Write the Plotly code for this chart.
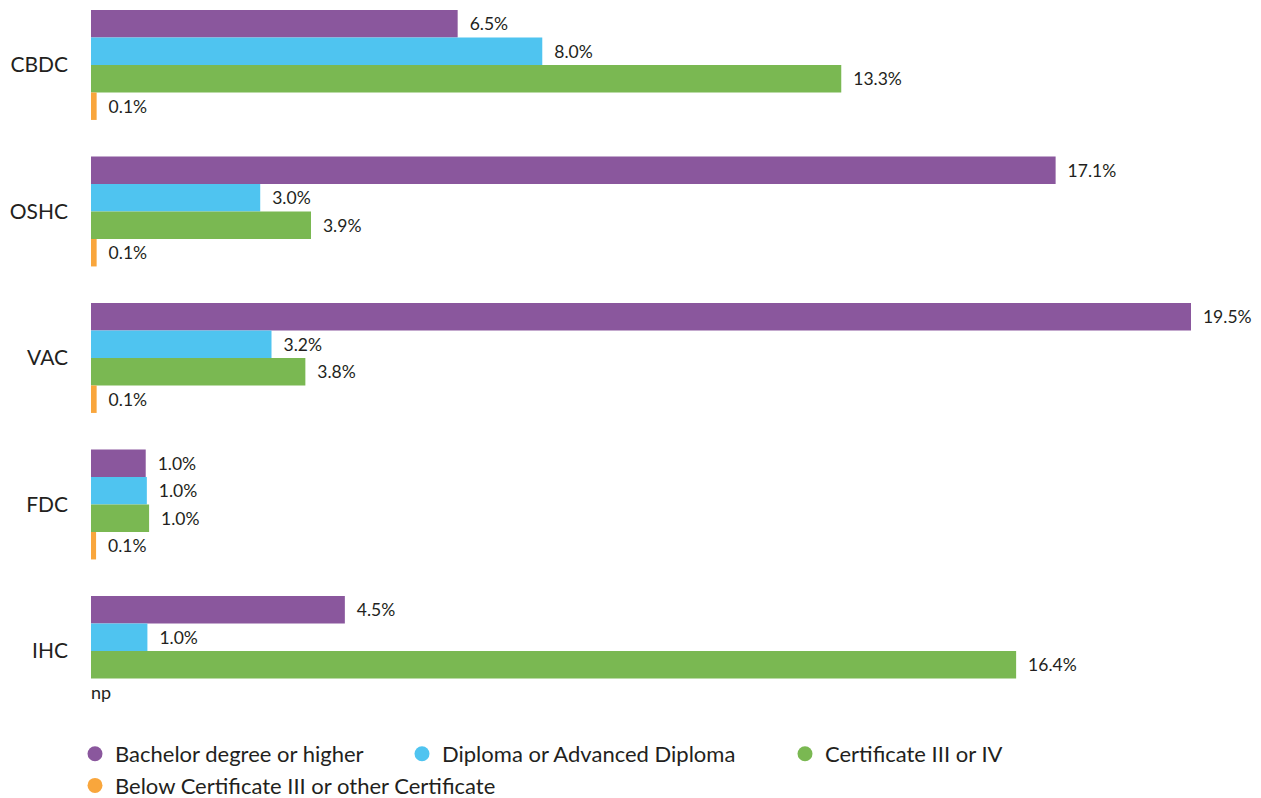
import plotly.graph_objects as go

categories = ["CBDC", "OSHC", "VAC", "FDC", "IHC"]
series_names = [
    "Bachelor degree or higher",
    "Diploma or Advanced Diploma",
    "Certificate III or IV",
    "Below Certificate III or other Certificate",
]
bachelor = [6.5, 17.1, 19.5, 0.97, 4.5]
diploma = [8.0, 3.0, 3.2, 0.99, 1.0]
cert34 = [13.3, 3.9, 3.8, 1.03, 16.4]
below = [0.1, 0.1, 0.1, 0.09, None]
below_labels = ["0.1%", "0.1%", "0.1%", "0.1%", ""]
np_label = "np"

colors = ["#8A579D", "#4FC4F0", "#7AB852", "#F9A63C"]
FONT = "Lato, Open Sans, sans-serif"
TXT = "#231F20"

values = [bachelor, diploma, cert34, below]
fig = go.Figure()
for i, (name, vals) in enumerate(zip(series_names, values)):
    if i < 3:
        txt = [f"{v:.1f}%" for v in vals]
    else:
        txt = below_labels
    fig.add_trace(go.Bar(
        y=categories, x=vals, orientation="h", name=name,
        marker=dict(color=colors[i], line=dict(width=0)),
        text=["\u00a0\u00a0" + t if t else "" for t in txt],
        texttemplate="%{text}",
        textposition="outside", cliponaxis=False,
        textfont=dict(family=FONT, size=17.5, color=TXT),
        showlegend=False, hoverinfo="skip",
    ))

legend_ids = ["legend", "legend2", "legend3", "legend"]
for i, name in enumerate(series_names):
    fig.add_trace(go.Scatter(
        x=[None], y=[None], mode="markers", name=name,
        marker=dict(symbol="circle", size=15, color=colors[i]),
        legend=legend_ids[i], showlegend=True,
    ))

fig.add_annotation(x=0, y="IHC", text=np_label, showarrow=False,
                   xanchor="left", yanchor="middle", yshift=-41, xshift=-2,
                   font=dict(family=FONT, size=18, color=TXT))

# page has an 8px body margin; figure coordinates = page - 8
W, H = 1253, 790
L, R, T, B = 83, 20, 0, 78
plot_w = W - L - R
plot_h = H - T - B
xscale = 1100 / 19.5
band = 146.5
top_val = -57 / band
bot_val = top_val + plot_h / band

leg_font = dict(family=FONT, size=22, color=TXT)
def px2paper(yp):
    return (H - B - yp) / plot_h

LEG_TOP = 725
fig.update_layout(
    width=W, height=H,
    margin=dict(l=L, r=R, t=T, b=B, autoexpand=False),
    plot_bgcolor="white", paper_bgcolor="white",
    barmode="group", bargap=0.25, bargroupgap=0,
    xaxis=dict(range=[0, plot_w / xscale], showgrid=False, zeroline=False,
               showticklabels=False, showline=False, ticks="", automargin=False),
    yaxis=dict(categoryorder="array", categoryarray=categories,
               range=[bot_val, top_val], showgrid=False, zeroline=False,
               showline=False, ticks="", ticklabelstandoff=22, automargin=False,
               tickfont=dict(family=FONT, size=21, color=TXT)),
    legend=dict(x=(67 - L) / plot_w, y=px2paper(LEG_TOP), xanchor="left", yanchor="top",
                orientation="v", font=leg_font, tracegroupgap=0,
                bgcolor="rgba(0,0,0,0)"),
    legend2=dict(x=(394 - L) / plot_w, y=px2paper(LEG_TOP), xanchor="left", yanchor="top",
                 orientation="v", font=leg_font, bgcolor="rgba(0,0,0,0)"),
    legend3=dict(x=(777 - L) / plot_w, y=px2paper(LEG_TOP), xanchor="left", yanchor="top",
                 orientation="v", font=leg_font, bgcolor="rgba(0,0,0,0)"),
    font=dict(family=FONT, color=TXT),
)

fig.write_html("out.html")
